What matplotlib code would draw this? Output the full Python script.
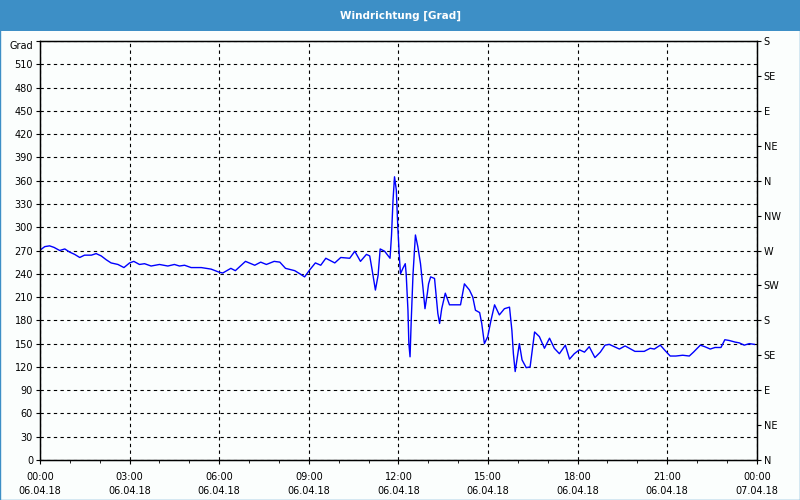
import numpy as np
import matplotlib
matplotlib.use("Agg")
import matplotlib.pyplot as plt
from matplotlib.patches import Rectangle
from matplotlib.transforms import ScaledTranslation

# Windrichtung ueber den Tag (Stunde seit 06.04.18 00:00, Grad)
hours = [0.02, 0.16, 0.32, 0.47, 0.66, 0.83, 0.99, 1.16, 1.33, 1.49, 1.72, 1.88,
         2.05, 2.22, 2.38, 2.61, 2.81, 3.0, 3.14, 3.33, 3.5, 3.72, 4.0, 4.28,
         4.5, 4.67, 4.84, 5.06, 5.4, 5.73, 6.0, 6.12, 6.39, 6.54, 6.88, 7.19,
         7.39, 7.58, 7.84, 8.03, 8.22, 8.53, 8.7, 8.86, 9.03, 9.22, 9.4, 9.57,
         9.87, 10.07, 10.37, 10.54, 10.73, 10.93, 11.04, 11.12, 11.23, 11.32,
         11.39, 11.54, 11.72, 11.77, 11.82, 11.87, 11.93, 11.98, 12.04, 12.07,
         12.15, 12.23, 12.26, 12.32, 12.35, 12.39, 12.43, 12.49, 12.57, 12.65,
         12.74, 12.82, 12.89, 12.97, 13.01, 13.08, 13.21, 13.27, 13.32, 13.38,
         13.45, 13.57, 13.71, 13.88, 14.08, 14.21, 14.38, 14.49, 14.58, 14.72,
         14.79, 14.88, 14.99, 15.1, 15.22, 15.38, 15.55, 15.72, 15.8, 15.85,
         15.91, 16.05, 16.14, 16.28, 16.41, 16.56, 16.72, 16.89, 17.06, 17.22,
         17.39, 17.59, 17.73, 17.89, 18.06, 18.23, 18.39, 18.58, 18.76, 18.92,
         19.06, 19.23, 19.4, 19.59, 19.73, 19.92, 20.23, 20.43, 20.57, 20.77,
         20.93, 21.1, 21.29, 21.52, 21.74, 21.88, 22.11, 22.26, 22.44, 22.6,
         22.8, 22.93, 23.08, 23.27, 23.41, 23.58, 23.75, 23.92]
grad = [271, 275, 276, 274, 270, 272, 268, 265, 261, 264, 264, 266,
        263, 258, 254, 252, 248, 254, 256, 252, 253, 250, 252, 250,
        252, 250, 251, 248, 248, 246, 242, 241, 247, 244, 256, 251,
        255, 252, 256, 255, 247, 244, 240, 236, 245, 254, 251, 260,
        254, 261, 260, 269, 256, 265, 263, 245, 219, 238,
        272, 269, 260, 290, 335, 365, 348, 300, 257, 240,
        247, 253, 240, 193, 150, 133, 180, 240, 290, 275,
        253, 223, 195, 215, 227, 236, 234, 210, 189, 176,
        195, 215, 200, 200, 200, 227, 219, 210, 193, 190,
        176, 150, 159, 180, 200, 187, 195, 197, 167, 137,
        114, 150, 129, 119, 120, 165, 159, 144, 157, 144,
        137, 148, 130, 137, 142, 139, 146, 132, 139, 148,
        149, 146, 143, 147, 144, 140, 140, 144, 143, 148,
        141, 134, 134, 135, 134, 139, 148, 146, 143, 145,
        145, 155, 154, 152, 151, 148, 150, 149]

y_ticks = list(range(0, 541, 30))
y_labels = [str(v) for v in y_ticks[:-1]] + ["Grad"]
dir_ticks = list(range(0, 541, 45))
dir_labels = ["N", "NE", "E", "SE", "S", "SW", "W", "NW", "N", "NE", "E", "SE", "S"]
x_ticks = list(range(0, 25, 3))
x_labels = ["00:00\n06.04.18", "03:00\n06.04.18", "06:00\n06.04.18", "09:00\n06.04.18",
            "12:00\n06.04.18", "15:00\n06.04.18", "18:00\n06.04.18", "21:00\n06.04.18",
            "00:00\n07.04.18"]

bg = "#fbfefd"
blue_bar = "#3d8fc6"

fig = plt.figure(figsize=(8, 5), dpi=100, facecolor=bg)
ax = fig.add_axes([0.05, 0.08, 0.896, 0.838], facecolor=bg)

ax.plot(hours, grad, color="#0000ff", linewidth=1)

ax.set_xlim(0, 24)
ax.set_ylim(0, 540)
ax.set_xticks(x_ticks)
ax.set_xticklabels(x_labels, fontsize=7, linespacing=1.5)
ax.set_xticks(range(0, 25), minor=True)
ax.set_yticks(y_ticks)
ax.set_yticklabels(y_labels, fontsize=7)
ax.tick_params(axis="both", which="major", length=3, width=0.8, pad=2)
ax.tick_params(axis="x", which="major", pad=6)
ax.tick_params(axis="x", which="minor", length=2, width=0.6)
ax.grid(True, color="black", linestyle=(0, (3, 3)), linewidth=0.8)
for s in ax.spines.values():
    s.set_linewidth(1)

# "Grad" etwas tiefer setzen
grad_lbl = ax.get_yticklabels()[-1]
grad_lbl.set_transform(grad_lbl.get_transform() + ScaledTranslation(0, -3 / 72, fig.dpi_scale_trans))

ax2 = ax.twinx()
ax2.set_ylim(0, 540)
ax2.set_yticks(dir_ticks)
ax2.set_yticklabels(dir_labels, fontsize=7)
ax2.tick_params(axis="y", length=3, width=0.8, pad=2)

# Titelleiste
fig.patches.append(Rectangle((0, 0.938), 1, 0.062, transform=fig.transFigure,
                             facecolor=blue_bar, edgecolor="none"))
fig.text(0.5, 0.969, "Windrichtung [Grad]", color="white", fontsize=7.5,
         fontweight="bold", ha="center", va="center")
fig.patches.append(Rectangle((0.0006, 0.001), 0.9988, 0.998, transform=fig.transFigure,
                             facecolor="none", edgecolor=blue_bar, linewidth=1))

fig.savefig("out.png", dpi=100, facecolor=bg)
